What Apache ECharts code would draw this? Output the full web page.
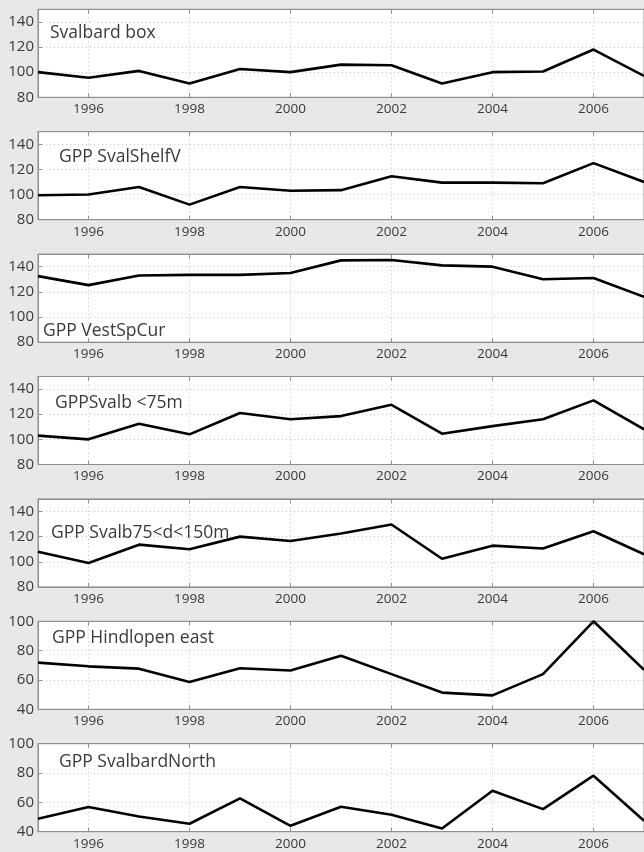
<!DOCTYPE html>
<html>
<head>
<meta charset="utf-8">
<script src="https://cdn.jsdelivr.net/npm/echarts@6/dist/echarts.min.js"></script>
<style>
html,body{margin:0;padding:0;background:#e8e8e8;}
#c{width:644px;height:852px;}
</style>
</head>
<body>
<div id="c"></div>
<script>
var years = [1995,1996,1997,1998,1999,2000,2001,2002,2003,2004,2005,2006,2007];
var panelTitles = ['Svalbard box','GPP SvalShelfV','GPP VestSpCur','GPPSvalb <75m','GPP Svalb75<d<150m','GPP Hindlopen east','GPP SvalbardNorth'];
var svalbardBox   = [100, 95.6, 101, 91, 102.5, 100, 106, 105.5, 91, 100, 100.5, 118, 97];
var svalShelfV    = [99.5, 100, 106, 92, 106, 103, 103.5, 114.5, 109.5, 109.5, 109, 125, 110];
var vestSpCur     = [132.5, 125.3, 133, 133.5, 133.5, 135, 145, 145.3, 141, 140, 130, 131, 116];
var svalbLt75     = [103, 100, 112.4, 104, 121, 116, 118.5, 127.5, 104.5, 110.5, 116, 131, 108];
var svalb75to150  = [108, 99, 113.6, 110, 120, 116.5, 122.5, 129.6, 102.4, 112.8, 110.6, 124.3, 106];
var hindlopenEast = [71.8, 69.3, 67.7, 58.6, 68, 66.5, 76.5, 64, 51.4, 49.5, 64, 100, 67];
var svalbardNorth = [48.8, 56.8, 50.4, 45.4, 62.7, 44, 57, 51.5, 42.2, 67.9, 55.4, 78.2, 47.5];
var yRanges = [[80,150],[80,150],[80,150],[80,150],[80,150],[40,100],[40,100]];
var titleValues = [131, 130, 89, 129, 123, 88.5, 87.5];

var seriesData = [svalbardBox, svalShelfV, vestSpCur, svalbLt75, svalb75to150, hindlopenEast, svalbardNorth];

var TOP0 = 9.3, STEP = 122.4, H = 88, LEFT = 38, W = 614;
var txtColor = '#3a3a3a';
var frameColor = '#8f8f8f';
var gridColor = '#c4c4c4';
var font = 'Open Sans';

function buildOption(withGraphic) {
  var grids = [], xAxes = [], yAxes = [], series = [], graphics = [];
  for (var i = 0; i < 7; i++) {
    var top = TOP0 + i*STEP;
    grids.push({left: LEFT, top: top, width: W, height: H, show: true, backgroundColor: '#ffffff', borderColor: frameColor, borderWidth: 1});
    var xBase = {
      type: 'value', gridIndex: i, min: years[0], max: years[years.length-1],
      minInterval: 2, maxInterval: 2
    };
    xAxes.push(Object.assign({}, xBase, {
      position: 'bottom',
      axisLine: {show: true, onZero: false, lineStyle: {color: frameColor, width: 1}},
      axisTick: {show: true, inside: true, length: 4, lineStyle: {color: frameColor}},
      axisLabel: {show: true, color: txtColor, fontFamily: font, fontSize: 13.5, margin: 5,
        showMinLabel: false, showMaxLabel: false, formatter: function (v) { return String(v); }},
      splitLine: {show: true, lineStyle: {color: gridColor, type: [1, 3], width: 1}}
    }));
    xAxes.push(Object.assign({}, xBase, {
      position: 'top',
      axisLine: {show: true, onZero: false, lineStyle: {color: frameColor, width: 1}},
      axisTick: {show: true, inside: true, length: 4, lineStyle: {color: frameColor}},
      axisLabel: {show: false}, splitLine: {show: false}
    }));
    yAxes.push({
      type: 'value', gridIndex: i, min: yRanges[i][0], max: yRanges[i][1], interval: 20,
      axisLine: {show: true, onZero: false, lineStyle: {color: frameColor, width: 1}},
      axisTick: {show: true, inside: true, length: 4, lineStyle: {color: frameColor}},
      axisLabel: {show: true, color: txtColor, fontFamily: font, fontSize: 15, margin: 4,
        formatter: function (v) { return (v % 20 === 0) ? String(v) : ''; }},
      splitLine: {show: true, lineStyle: {color: gridColor, type: [1, 3], width: 1}}
    });
    var pts = [];
    for (var k = 0; k < years.length; k++) pts.push([years[k], seriesData[i][k]]);
    series.push({
      type: 'line', xAxisIndex: 2*i, yAxisIndex: i, data: pts,
      showSymbol: false, silent: true, animation: false,
      lineStyle: {color: '#000000', width: 2.6}
    });
    var y = top + (yRanges[i][1] - titleValues[i]) / (yRanges[i][1] - yRanges[i][0]) * H;
    var tx = [50, 59, 43, 55, 51, 52, 59][i];
    graphics.push({type: 'text', x: tx, y: y, z: 100, style: {text: panelTitles[i], fill: txtColor, fontSize: 17.5, fontFamily: font, verticalAlign: 'middle', align: 'left'}});
  }
  var opt = {backgroundColor: '#e8e8e8', animation: false, grid: grids, xAxis: xAxes, yAxis: yAxes, series: series};
  if (withGraphic) opt.graphic = graphics;
  return opt;
}

var el = document.getElementById('c');
var chart = echarts.init(el, null, {renderer: 'canvas'});
try {
  chart.setOption(buildOption(true));
} catch (e) {
  console.error('first attempt failed: ' + e.message);
  chart.dispose();
  chart = echarts.init(el, null, {renderer: 'canvas'});
  chart.setOption(buildOption(false));
}
</script>
</body>
</html>
